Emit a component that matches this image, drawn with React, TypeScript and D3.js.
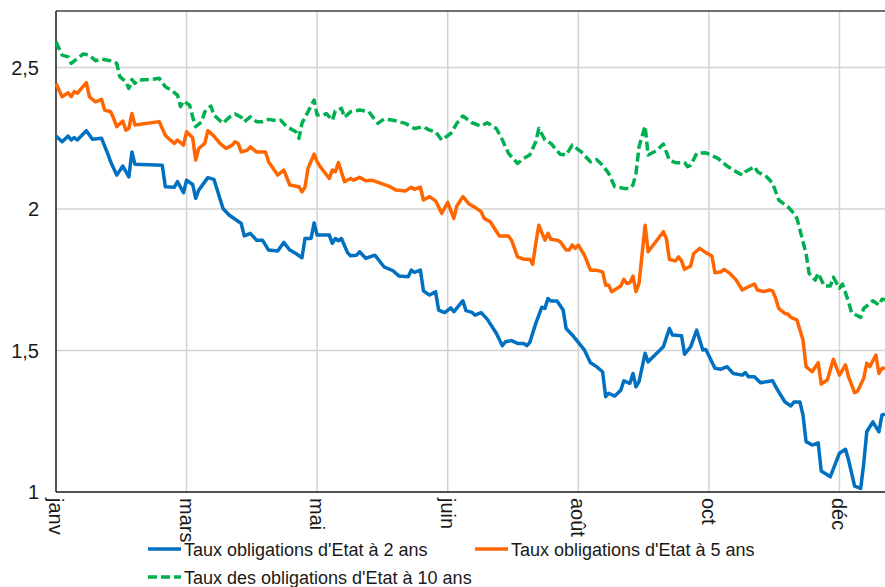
import React from "react";
import * as d3 from "d3";

// Trading-day index along the year, and yield (%)
const rate2y: [number, number][] = [
  [0,2.258],[2,2.238],[4,2.258],[5,2.244],[6,2.253],[7,2.244],[10,2.277],[12,2.247],[15,2.25],[17,2.197],[18,2.167],[20,2.12],[22,2.152],[24,2.114],[25,2.202],[26,2.158],[35,2.155],[36,2.079],[39,2.077],[40,2.097],[42,2.058],[43,2.102],[45,2.087],[46,2.038],[47,2.067],[50,2.111],[52,2.105],[55,2.002],[57,1.979],[61,1.949],[62,1.905],[64,1.914],[66,1.89],[68,1.89],[70,1.855],[73,1.852],[75,1.882],[77,1.855],[79,1.843],[81,1.828],[82,1.896],[84,1.896],[85,1.951],[86,1.908],[87,1.908],[90,1.908],[91,1.879],[92,1.896],[93,1.888],[94,1.896],[96,1.846],[97,1.835],[99,1.837],[100,1.849],[102,1.826],[105,1.837],[108,1.796],[111,1.782],[113,1.763],[116,1.761],[117,1.784],[118,1.776],[120,1.784],[121,1.711],[123,1.696],[125,1.708],[126,1.643],[128,1.634],[130,1.651],[131,1.637],[134,1.676],[135,1.641],[137,1.635],[138,1.625],[140,1.634],[142,1.611],[145,1.561],[147,1.517],[148,1.531],[150,1.535],[152,1.525],[154,1.525],[155,1.517],[156,1.528],[158,1.596],[160,1.653],[161,1.649],[162,1.684],[163,1.675],[165,1.675],[167,1.643],[168,1.578],[170,1.555],[174,1.502],[176,1.457],[178,1.443],[180,1.425],[181,1.337],[182,1.349],[184,1.339],[186,1.36],[187,1.393],[189,1.384],[190,1.419],[191,1.372],[192,1.39],[194,1.49],[195,1.46],[200,1.513],[202,1.578],[203,1.555],[206,1.552],[207,1.487],[209,1.513],[211,1.572],[213,1.502],[214,1.504],[217,1.437],[219,1.434],[221,1.443],[223,1.419],[226,1.413],[227,1.422],[228,1.407],[230,1.407],[232,1.386],[234,1.39],[236,1.393],[237,1.372],[240,1.319],[242,1.304],[243,1.318],[245,1.318],[246,1.272],[247,1.178],[249,1.166],[251,1.174],[252,1.074],[255,1.054],[258,1.137],[260,1.151],[261,1.113],[263,1.021],[265,1.013],[266,1.101],[267,1.213],[269,1.248],[271,1.213],[272,1.272],[273,1.275]
];

const rate5y: [number, number][] = [
  [0,2.444],[2,2.397],[4,2.411],[5,2.397],[6,2.415],[7,2.409],[10,2.447],[11,2.397],[13,2.379],[15,2.388],[16,2.35],[18,2.344],[19,2.32],[20,2.291],[22,2.311],[23,2.279],[24,2.285],[25,2.338],[26,2.297],[34,2.309],[36,2.261],[37,2.25],[39,2.232],[40,2.244],[42,2.226],[43,2.273],[45,2.252],[46,2.173],[47,2.214],[49,2.232],[50,2.277],[52,2.258],[54,2.232],[56,2.214],[58,2.226],[59,2.238],[60,2.232],[61,2.202],[63,2.208],[64,2.22],[66,2.202],[69,2.202],[70,2.167],[73,2.12],[75,2.138],[77,2.085],[80,2.079],[81,2.061],[82,2.077],[83,2.144],[85,2.194],[86,2.167],[87,2.15],[90,2.108],[91,2.138],[92,2.132],[93,2.164],[95,2.097],[97,2.108],[98,2.102],[100,2.112],[102,2.1],[104,2.102],[107,2.091],[110,2.079],[112,2.067],[115,2.064],[117,2.077],[118,2.07],[120,2.077],[121,2.032],[123,2.044],[125,2.029],[127,1.985],[129,2.024],[131,1.967],[132,2.011],[134,2.044],[136,2.018],[138,2.006],[140,1.991],[141,1.967],[143,1.955],[146,1.905],[149,1.905],[150,1.89],[152,1.831],[154,1.823],[156,1.823],[157,1.805],[158,1.879],[159,1.943],[161,1.89],[162,1.914],[163,1.893],[165,1.89],[166,1.885],[168,1.855],[169,1.855],[170,1.873],[171,1.861],[172,1.873],[174,1.837],[176,1.784],[178,1.784],[180,1.778],[181,1.731],[182,1.731],[183,1.708],[186,1.728],[187,1.752],[188,1.737],[189,1.74],[190,1.763],[191,1.708],[192,1.737],[194,1.943],[195,1.849],[200,1.92],[201,1.896],[202,1.822],[204,1.817],[205,1.831],[206,1.817],[207,1.787],[209,1.799],[210,1.843],[212,1.861],[214,1.846],[216,1.834],[217,1.775],[219,1.778],[220,1.787],[222,1.772],[224,1.749],[226,1.714],[227,1.72],[230,1.735],[231,1.714],[233,1.708],[235,1.714],[236,1.711],[237,1.684],[238,1.649],[240,1.631],[241,1.629],[242,1.617],[244,1.608],[246,1.537],[247,1.443],[249,1.425],[251,1.457],[252,1.382],[254,1.396],[256,1.469],[258,1.413],[260,1.449],[261,1.407],[263,1.351],[264,1.357],[266,1.402],[267,1.455],[268,1.443],[270,1.484],[271,1.419],[272,1.437],[273,1.437]
];

const rate10y: [number, number][] = [
  [0,2.591],[2,2.544],[4,2.538],[5,2.515],[7,2.532],[9,2.548],[11,2.544],[13,2.524],[15,2.53],[18,2.524],[20,2.515],[21,2.468],[23,2.45],[24,2.426],[25,2.458],[26,2.444],[27,2.456],[31,2.458],[34,2.462],[36,2.432],[38,2.42],[40,2.403],[41,2.362],[42,2.382],[44,2.367],[45,2.326],[46,2.291],[48,2.309],[49,2.344],[51,2.364],[52,2.332],[55,2.303],[57,2.324],[59,2.336],[61,2.324],[62,2.309],[64,2.326],[66,2.309],[68,2.309],[70,2.317],[73,2.312],[74,2.314],[76,2.291],[79,2.273],[80,2.25],[81,2.303],[83,2.344],[85,2.385],[86,2.332],[88,2.332],[89,2.338],[91,2.314],[92,2.347],[94,2.356],[95,2.324],[97,2.344],[100,2.35],[103,2.344],[106,2.303],[108,2.318],[111,2.314],[115,2.303],[118,2.285],[121,2.291],[123,2.279],[125,2.273],[127,2.244],[130,2.267],[132,2.303],[134,2.329],[137,2.305],[140,2.293],[142,2.305],[145,2.285],[147,2.244],[149,2.197],[152,2.161],[154,2.179],[156,2.191],[158,2.238],[159,2.285],[161,2.244],[163,2.232],[166,2.194],[168,2.191],[170,2.226],[173,2.202],[176,2.167],[178,2.175],[180,2.155],[182,2.126],[184,2.079],[187,2.073],[189,2.073],[190,2.085],[191,2.126],[192,2.22],[194,2.293],[195,2.191],[198,2.208],[200,2.23],[202,2.173],[204,2.164],[207,2.164],[208,2.15],[209,2.155],[211,2.197],[214,2.199],[218,2.179],[221,2.152],[223,2.138],[226,2.12],[227,2.132],[230,2.15],[231,2.132],[234,2.114],[236,2.091],[238,2.032],[241,2.008],[243,1.985],[244,1.967],[245,1.926],[247,1.843],[248,1.773],[250,1.749],[251,1.773],[253,1.728],[255,1.728],[256,1.759],[258,1.72],[259,1.735],[261,1.672],[262,1.634],[265,1.617],[266,1.649],[268,1.666],[269,1.676],[271,1.661],[272,1.681],[273,1.68]
];

const monthTickIdx = [0, 43, 86, 129, 172, 215, 258];
const monthLabels = ["janv", "mars", "mai", "juin", "août", "oct", "déc"];
const yTicks = [1, 1.5, 2, 2.5];

const seriesNames = [
  "Taux obligations d'Etat à 2 ans",
  "Taux obligations d'Etat à 5 ans",
  "Taux des obligations d'Etat à 10 ans",
];

const W = 885;
const H = 587;
const left = 56;
const right = 885;
const top = 11;
const bottom = 492;
const FONT = "'Liberation Sans', Arial, sans-serif";

export default function App() {
  const x = d3.scaleLinear().domain([0, 273]).range([left, right]);
  const y = d3.scaleLinear().domain([1, 2.7]).range([bottom, top]);
  const line = d3
    .line<[number, number]>()
    .x((d) => x(d[0]))
    .y((d) => y(d[1]));
  const fmt = (v: number) => d3.format("~g")(v).replace(".", ",");

  const series = [
    { data: rate2y, color: "#0070C0", dash: undefined as string | undefined },
    { data: rate5y, color: "#FF6600", dash: undefined as string | undefined },
    { data: rate10y, color: "#00B050", dash: "9,4" },
  ];

  const legend = [
    { lx: 148, ly: 549, tx: 184, ty: 555.5, s: 0 },
    { lx: 475, ly: 549, tx: 511, ty: 555.5, s: 1 },
    { lx: 148, ly: 577, tx: 184, ty: 583.5, s: 2 },
  ];

  return (
    <svg
      width={W}
      height={H}
      style={{ position: "absolute", left: 0, top: 0, background: "#fff" }}
      fontFamily={FONT}
    >
      <rect x={0} y={0} width={W} height={H} fill="#fff" />
      {/* grid */}
      {yTicks
        .filter((t) => t > 1)
        .map((t) => (
          <line key={"hy" + t} x1={left} x2={right} y1={y(t)} y2={y(t)} stroke="#d3d3d3" strokeWidth={1.5} />
        ))}
      {monthTickIdx
        .filter((t) => t > 0)
        .map((t) => (
          <line key={"vx" + t} x1={x(t)} x2={x(t)} y1={top} y2={bottom} stroke="#d3d3d3" strokeWidth={1.5} />
        ))}
      {/* frame */}
      <line x1={left} x2={right} y1={top} y2={top} stroke="#404040" strokeWidth={1.5} />
      <line x1={left} x2={left} y1={top} y2={bottom} stroke="#1a1a1a" strokeWidth={1.5} />

      {/* series */}
      {series.map((s, i) => (
        <path
          key={i}
          d={line(s.data) || ""}
          fill="none"
          stroke={s.color}
          strokeWidth={3.5}
          strokeLinejoin="round"
          strokeDasharray={s.dash}
        />
      ))}

      <line x1={left} x2={right} y1={bottom} y2={bottom} stroke="#1a1a1a" strokeWidth={1.5} />

      {/* y labels */}
      {yTicks.map((t) => (
        <text key={"yl" + t} x={39} y={y(t)} dy="0.35em" textAnchor="end" fontSize={20} fill="#1a1a1a">
          {fmt(t)}
        </text>
      ))}

      {/* x labels */}
      {monthTickIdx.map((t, i) => (
        <text
          key={"xl" + t}
          transform={`translate(${x(t)},498) rotate(90)`}
          dy="0.35em"
          fontSize={20}
          fill="#1a1a1a"
        >
          {monthLabels[i]}
        </text>
      ))}

      {/* legend */}
      {legend.map((l) => (
        <g key={"lg" + l.s}>
          <line
            x1={l.lx}
            x2={l.lx + 33}
            y1={l.ly}
            y2={l.ly}
            stroke={series[l.s].color}
            strokeWidth={3.5}
            strokeDasharray={series[l.s].dash}
          />
          <text x={l.tx} y={l.ty} fontSize={18} fill="#1a1a1a">
            {seriesNames[l.s]}
          </text>
        </g>
      ))}
    </svg>
  );
}
